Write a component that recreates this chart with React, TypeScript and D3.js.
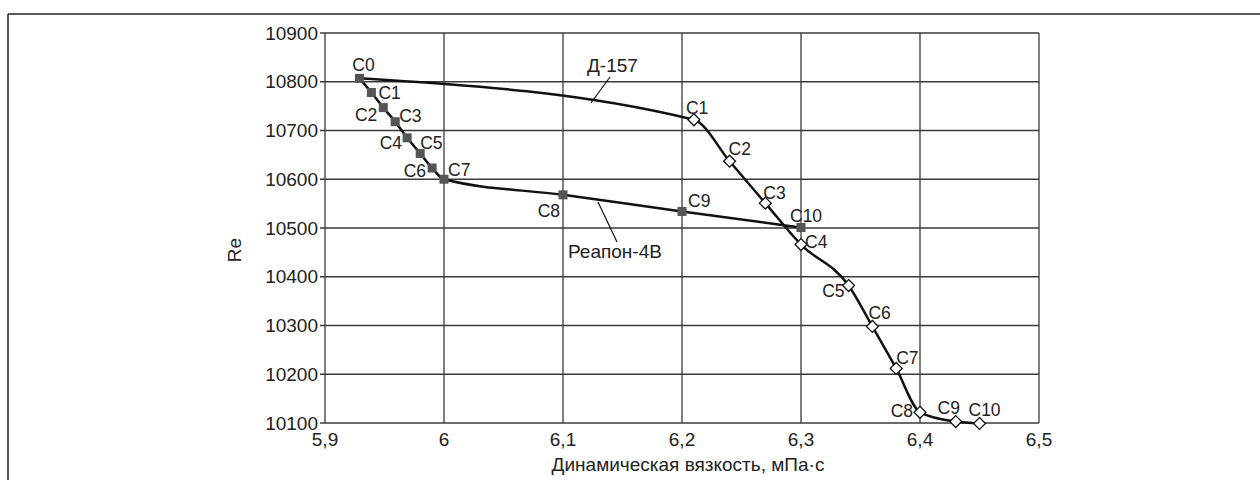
import React from "react";
import * as d3 from "d3";

const xTicks = [5.9, 6.0, 6.1, 6.2, 6.3, 6.4, 6.5];
const xTickLabels = ["5,9", "6", "6,1", "6,2", "6,3", "6,4", "6,5"];
const yTicks = [10100, 10200, 10300, 10400, 10500, 10600, 10700, 10800, 10900];

const reaponNames = ["C0", "C1", "C2", "C3", "C4", "C5", "C6", "C7", "C8", "C9", "C10"];
const reaponX = [5.929, 5.939, 5.949, 5.959, 5.969, 5.98, 5.99, 6.0, 6.1, 6.2, 6.3];
const reaponY = [10807, 10778, 10747, 10718, 10685, 10653, 10623, 10600, 10568, 10534, 10501];

const d157Names = ["C0", "C1", "C2", "C3", "C4", "C5", "C6", "C7", "C8", "C9", "C10"];
const d157X = [5.929, 6.21, 6.24, 6.27, 6.3, 6.34, 6.36, 6.38, 6.4, 6.43, 6.45];
const d157Y = [10807, 10722, 10637, 10551, 10466, 10382, 10298, 10212, 10122, 10103, 10099];

// label placement (style): [dx, dy, anchor]
const reaponLabelPos: [number, number, string][] = [
  [4, -7, "middle"], [7, 7, "start"], [-6, 13, "end"], [4, 0, "start"], [-5, 11, "end"],
  [0, -4, "start"], [-6, 9, "end"], [4, -3, "start"], [-3, 22, "end"], [6, -4, "start"], [-11, -6, "start"],
];
const d157LabelPos: [number, number, string][] = [
  [0, 0, "none"], [-8, -6, "start"], [-1, -6, "start"], [-2, -4, "start"], [4, 3, "start"],
  [-4, 11, "end"], [-4, -7, "start"], [0, -4, "start"], [-7, 5, "end"], [-7, -8, "middle"], [-11, -7, "start"],
];

const FONT = "'Liberation Sans', Arial, Helvetica, sans-serif";

export default function App() {
  const left = 325, right = 1039, top = 33, bottom = 423;
  const x = d3.scaleLinear().domain([5.9, 6.5]).range([left, right]);
  const y = d3.scaleLinear().domain([10100, 10900]).range([bottom, top]);

  const reapon = reaponX.map((v, i) => ({ x: v, y: reaponY[i], name: reaponNames[i] }));
  const d157 = d157X.map((v, i) => ({ x: v, y: d157Y[i], name: d157Names[i] }));

  const line = d3
    .line<{ x: number; y: number }>()
    .x((d) => x(d.x))
    .y((d) => y(d.y))
    .curve(d3.curveMonotoneX);

  const gridColor = "#3a3a3a";

  return (
    <svg
      width={1260}
      height={480}
      style={{ position: "absolute", left: 0, top: 0, display: "block", background: "#fff" }}
      fontFamily={FONT}
    >
      {/* outer frame */}
      <line x1={8} x2={1260} y1={14} y2={14} stroke="#222" strokeWidth={1.5} />
      <line x1={8} x2={8} y1={14} y2={480} stroke="#222" strokeWidth={1.5} />

      {/* grid */}
      {xTicks.map((t) => (
        <line key={"gx" + t} x1={x(t)} x2={x(t)} y1={top} y2={bottom} stroke={gridColor} strokeWidth={1.3} />
      ))}
      {yTicks.map((t) => (
        <line key={"gy" + t} x1={left - 5} x2={right} y1={y(t)} y2={y(t)} stroke={gridColor} strokeWidth={1.3} />
      ))}

      {/* tick labels */}
      {yTicks.map((t) => (
        <text key={"ty" + t} x={left - 7} y={y(t)} dy="0.35em" textAnchor="end" fontSize={19} fill="#222">
          {t}
        </text>
      ))}
      {xTicks.map((t, i) => (
        <text key={"tx" + t} x={x(t)} y={446} textAnchor="middle" fontSize={19} fill="#222">
          {xTickLabels[i]}
        </text>
      ))}

      {/* axis titles */}
      <text x={(left + right) / 2 + 6} y={471} textAnchor="middle" fontSize={19} fill="#222">
        Динамическая вязкость, мПа·с
      </text>
      <text transform={`translate(241,250) rotate(-90)`} textAnchor="middle" fontSize={19} fill="#222">
        Re
      </text>

      {/* series lines */}
      <path d={line(d157) || ""} fill="none" stroke="#111" strokeWidth={2.5} />
      <path d={line(reapon) || ""} fill="none" stroke="#111" strokeWidth={2.5} />

      {/* leader lines and series names */}
      <line x1={610} y1={77} x2={591} y2={103} stroke="#111" strokeWidth={1.2} />
      <text x={587} y={72} fontSize={19} fill="#222">Д-157</text>
      <line x1={598} y1={202} x2={617} y2={242} stroke="#111" strokeWidth={1.2} />
      <text x={568} y={258} fontSize={19} fill="#222">Реапон-4В</text>

      {/* markers */}
      {d157.map((d, i) =>
        i === 0 ? null : (
          <path
            key={"dm" + i}
            d={d3.symbol().type(d3.symbolDiamond2).size(90)() || ""}
            transform={`translate(${x(d.x)},${y(d.y)})`}
            fill="#fff"
            stroke="#111"
            strokeWidth={1.3}
          />
        )
      )}
      {reapon.map((d, i) => (
        <rect key={"rm" + i} x={x(d.x) - 4.5} y={y(d.y) - 4.5} width={9} height={9} fill="#555" />
      ))}

      {/* point labels */}
      {reapon.map((d, i) => (
        <text
          key={"rl" + i}
          x={x(d.x) + reaponLabelPos[i][0]}
          y={y(d.y) + reaponLabelPos[i][1]}
          textAnchor={reaponLabelPos[i][2]}
          fontSize={17.5}
          fill="#222"
        >
          {d.name}
        </text>
      ))}
      {d157.map((d, i) =>
        d157LabelPos[i][2] === "none" ? null : (
          <text
            key={"dl" + i}
            x={x(d.x) + d157LabelPos[i][0]}
            y={y(d.y) + d157LabelPos[i][1]}
            textAnchor={d157LabelPos[i][2]}
            fontSize={17.5}
            fill="#222"
          >
            {d.name}
          </text>
        )
      )}
    </svg>
  );
}
